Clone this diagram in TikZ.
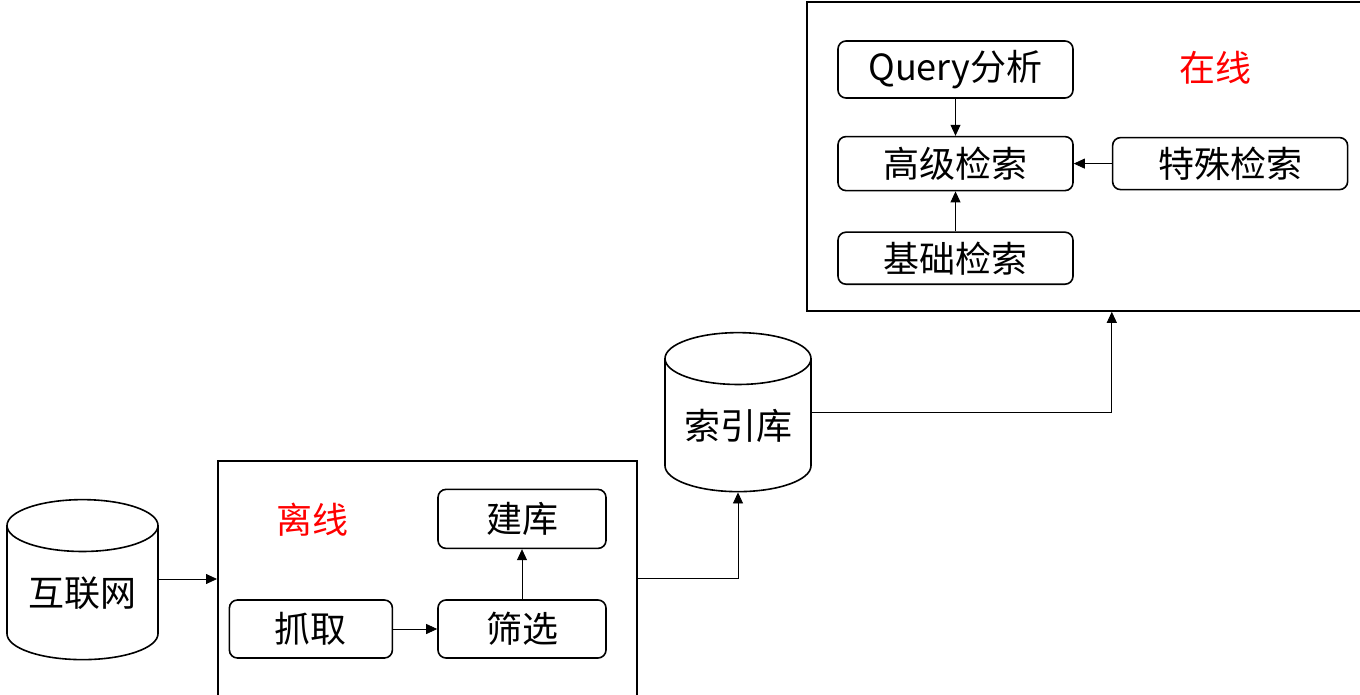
\documentclass[tikz,border=0pt]{standalone}
\usepackage{fontspec}
\newfontfamily\cjk{Noto Sans CJK SC}
\usetikzlibrary{positioning,shapes.geometric,arrows.meta}
\tikzset{
  rbox/.style={draw, rounded corners=8pt, line width=1.6pt, inner sep=0pt,
    minimum width=235pt, minimum height=54pt, font=\cjk\fontsize{36}{40}\selectfont},
  db/.style={cylinder, shape border rotate=90, aspect=0.48, draw, line width=1.6pt,
    inner sep=0pt, font=\cjk\fontsize{36}{40}\selectfont},
  zone/.style={draw, line width=1.8pt, inner sep=0pt, anchor=north west},
  tag/.style={red, font=\cjk\fontsize{36}{40}\selectfont},
  flow/.style={-{Triangle[length=11pt,width=10pt]}, line width=0.8pt},
}
\begin{document}
\begin{tikzpicture}[x=1pt,y=-1pt]
  \clip (0,0) rectangle (1360,695);
  % offline part
  \node[db, minimum width=151pt, minimum height=160pt] (net) at (82.5,593) {互联网};
  \node[zone, minimum width=419pt, minimum height=280pt] (offline) at (217,460) {};
  \node[tag] (offtag) at (312,520) {离线};
  \node[rbox, minimum width=168pt, minimum height=58pt] (shaixuan) at (522,629) {筛选};
  \node[rbox, minimum width=163pt, minimum height=58pt, left=44pt of shaixuan] (zhuaqu) {抓取};
  \node[rbox, minimum width=168pt, minimum height=59pt, above=50pt of shaixuan] (jianku) {建库};
  \draw[flow] (net.east |- 0,579) -- (offline.west |- 0,579);
  \draw[flow] (zhuaqu) -- (shaixuan);
  \draw[flow] (shaixuan) -- (jianku);
  % index
  \node[db, minimum width=146pt, minimum height=159pt] (index) at (738,425.5) {索引库};
  \draw[flow] (offline.east |- 0,578) -| (index.south);
  % online part
  \node[zone, minimum width=556pt, minimum height=309pt] (online) at (806,1) {};
  \node[tag] (ontag) at (1215,68) {在线};
  \node[rbox, minimum height=57pt] (query) at (955.5,69.5) {Query分析};
  \node[rbox, below=37pt of query] (gaoji) {高级检索};
  \node[rbox, minimum height=52pt, below=40pt of gaoji] (jichu) {基础检索};
  \node[rbox, minimum height=52pt, right=38pt of gaoji] (tese) {特殊检索};
  \draw[flow] (query) -- (gaoji);
  \draw[flow] (jichu) -- (gaoji);
  \draw[flow] (tese) -- (gaoji);
  \draw[flow] (index.east |- 0,412) -| (tese.west |- online.south);
\end{tikzpicture}
\end{document}
